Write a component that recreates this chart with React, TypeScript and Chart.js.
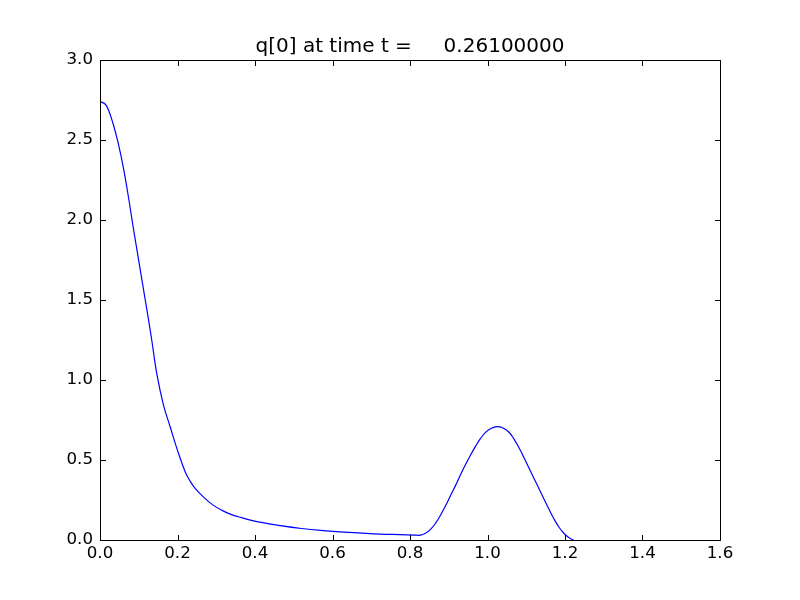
import React, { useEffect, useRef } from "react";
import { Chart, registerables } from "chart.js";

Chart.register(...registerables);

const xValues = [
  0.0, 0.013, 0.0215, 0.034, 0.047, 0.06, 0.073, 0.086, 0.099, 0.112, 0.125,
  0.1335, 0.1465, 0.1637, 0.181, 0.2025, 0.22, 0.232, 0.2455, 0.27, 0.292,
  0.315, 0.336, 0.365, 0.396, 0.43, 0.465, 0.52, 0.569, 0.64, 0.724, 0.775,
  0.81, 0.827, 0.84, 0.853, 0.866, 0.879, 0.892, 0.905, 0.918, 0.93, 0.943,
  0.956, 0.969, 0.982, 0.995, 1.01, 1.025, 1.04, 1.055, 1.068, 1.081, 1.094,
  1.107, 1.12, 1.133, 1.146, 1.159, 1.172, 1.185, 1.197, 1.207, 1.215, 1.222,
];
const yValues = [
  2.74, 2.725, 2.69, 2.6, 2.48, 2.33, 2.15, 1.95, 1.76, 1.57, 1.38, 1.25,
  1.04, 0.845, 0.708, 0.542, 0.425, 0.37, 0.323, 0.262, 0.218, 0.185, 0.162,
  0.14, 0.12, 0.104, 0.09, 0.072, 0.06, 0.048, 0.037, 0.034, 0.031, 0.03,
  0.042, 0.066, 0.105, 0.156, 0.215, 0.28, 0.343, 0.406, 0.47, 0.53, 0.585,
  0.635, 0.673, 0.698, 0.708, 0.7, 0.675, 0.632, 0.578, 0.515, 0.45, 0.385,
  0.32, 0.255, 0.19, 0.13, 0.078, 0.042, 0.02, 0.008, 0.0,
];

const xTicks = [0, 0.2, 0.4, 0.6, 0.8, 1.0, 1.2, 1.4, 1.6];
const yTicks = [0, 0.5, 1.0, 1.5, 2.0, 2.5, 3.0];
const titleText = "q[0] at time t =     0.26100000";

const FONT = "'DejaVu Sans', sans-serif";

const framePlugin = {
  id: "mplFrame",
  afterDraw(chart: any) {
    const { ctx, chartArea, scales } = chart;
    const left = Math.round(chartArea.left);
    const right = Math.round(chartArea.right);
    const top = Math.round(chartArea.top);
    const bottom = Math.round(chartArea.bottom);
    const L = 5;
    ctx.save();
    ctx.fillStyle = "#000000";
    ctx.fillRect(left, top, right - left + 1, 1);
    ctx.fillRect(left, bottom, right - left + 1, 1);
    ctx.fillRect(left, top, 1, bottom - top + 1);
    ctx.fillRect(right, top, 1, bottom - top + 1);
    for (const v of xTicks) {
      const x = Math.round(scales.x.getPixelForValue(v));
      ctx.fillRect(x, bottom - L, 1, L);
      ctx.fillRect(x, top + 1, 1, L);
    }
    for (const v of yTicks) {
      const y = Math.round(scales.y.getPixelForValue(v));
      ctx.fillRect(left + 1, y, L, 1);
      ctx.fillRect(right - L, y, L, 1);
    }
    ctx.restore();
  },
};

export default function App() {
  const canvasRef = useRef<HTMLCanvasElement | null>(null);

  useEffect(() => {
    document.body.style.margin = "0";
    const canvas = canvasRef.current;
    if (!canvas) return;
    const points = xValues.map((x, i) => ({ x, y: yValues[i] }));
    const chart = new Chart(canvas, {
      type: "scatter",
      data: {
        datasets: [
          {
            data: points,
            showLine: true,
            borderColor: "#0000ff",
            borderWidth: 1.2,
            pointRadius: 0,
            tension: 0.4,
            fill: false,
          },
        ],
      },
      options: {
        animation: false,
        responsive: false,
        maintainAspectRatio: false,
        layout: { padding: { left: 0, right: 80, top: 0, bottom: 0 } },
        plugins: {
          legend: { display: false },
          tooltip: { enabled: false },
          title: {
            display: true,
            fullSize: false,
            text: titleText,
            color: "#000",
            font: { family: FONT, size: 20, weight: "normal" },
            padding: { top: 35, bottom: 1 },
          },
        },
        scales: {
          x: {
            type: "linear",
            min: 0,
            max: 1.6,
            afterFit: (s: any) => {
              s.height = 60;
            },
            grid: { display: false, drawTicks: false },
            border: { display: false },
            afterBuildTicks: (s: any) => {
              s.ticks = xTicks.map((v) => ({ value: v }));
            },
            ticks: {
              color: "#000",
              font: { family: FONT, size: 16.67 },
              padding: 4,
              maxRotation: 0,
              callback: (v: any) => Number(v).toFixed(1),
            },
          },
          y: {
            type: "linear",
            min: 0,
            max: 3,
            afterFit: (s: any) => {
              s.width = 100;
            },
            grid: { display: false, drawTicks: false },
            border: { display: false },
            afterBuildTicks: (s: any) => {
              s.ticks = yTicks.map((v) => ({ value: v }));
            },
            ticks: {
              color: "#000",
              font: { family: FONT, size: 16.67 },
              padding: 7,
              callback: (v: any) => Number(v).toFixed(1),
            },
          },
        },
      },
      plugins: [framePlugin],
    } as any);
    return () => chart.destroy();
  }, []);

  return (
    <div style={{ width: 800, height: 600, background: "#fff" }}>
      <canvas ref={canvasRef} width={800} height={600} />
    </div>
  );
}
